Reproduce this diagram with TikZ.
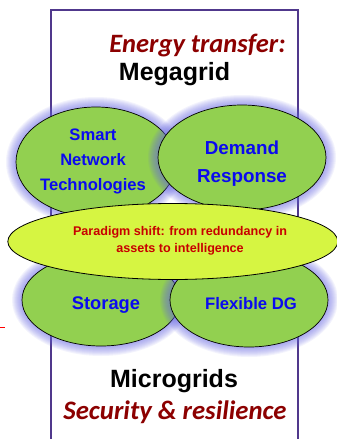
\documentclass[tikz,border=0pt]{standalone}
\usepackage{fontspec}
\setmainfont{Liberation Sans}
\newfontfamily\calib{Carlito}
\usetikzlibrary{shapes.geometric}
\definecolor{framec}{RGB}{80,56,140}
\definecolor{greenc}{RGB}{146,208,80}
\definecolor{yellowc}{RGB}{214,245,66}
\definecolor{glowc}{RGB}{105,105,225}
\definecolor{bluet}{RGB}{10,10,240}
\definecolor{redt}{RGB}{200,0,0}
\definecolor{darkred}{RGB}{140,0,0}
\newcommand\glowat[4]{\foreach \k in {1,...,10}{\fill[glowc,opacity=0.08] (#1,#2) ellipse [x radius=#3+\k, y radius=#4+\k];}}
\tikzset{
  blob/.style={ellipse, draw=black, line width=0.7pt, fill=greenc, inner sep=0pt},
  txt/.style={inner sep=0pt, align=center},
  btext/.style={txt, text=bluet},
}
\begin{document}
\begin{tikzpicture}[x=1pt,y=-1pt]
\useasboundingbox (0,0) rectangle (337,439);
\clip (0,0) rectangle (337,439);
% frame
\draw[framec, line width=2pt] (51,450) -- (51,9.5) -- (298,9.5) -- (298,450);
% small red mark
\coordinate (m1) at (0,327);
\coordinate (m2) at (5,327);
\draw[red, line width=0.8pt] (m1) -- (m2);
% top ellipses
\glowat{96}{162}{80}{55}
\node[blob, minimum width=160pt, minimum height=110pt] (snt) at (96,162) {};
\glowat{242}{157.5}{84}{52.5}
\node[blob, minimum width=168pt, minimum height=105pt] (dr) at (242,157.5) {};
% bottom ellipses
\glowat{101}{300}{79}{46}
\node[blob, minimum width=158pt, minimum height=92pt] (sto) at (101,300) {};
\glowat{249}{300}{79}{47}
\node[blob, minimum width=158pt, minimum height=94pt] (fdg) at (249,300) {};
% paradigm
\node[ellipse, draw=black, line width=0.8pt, fill=yellowc, inner sep=0pt, minimum width=330pt, minimum height=76pt] (par) at (172.8,241.5) {};
% texts
\node[txt, text=darkred, font=\calib\bfseries\itshape\fontsize{26.5}{30}\selectfont] (et) at (197.5,46) {Energy transfer:};
\node[txt, font=\bfseries\fontsize{25}{28}\selectfont] (mg) at (174.5,74.5) {Megagrid};
\node[btext, font=\bfseries\fontsize{16.6}{25}\selectfont] (snttxt) at (93,161) {Smart\\Network\\Technologies};
\node[btext, font=\bfseries\fontsize{18.8}{28}\selectfont] (drtxt) at (242,164) {Demand\\Response};
\node[txt, text=redt, font=\bfseries\fontsize{12.6}{17}\selectfont] (partxt) at (180,241) {Paradigm shift: from redundancy in\\assets to intelligence};
\node[btext, font=\bfseries\fontsize{18.3}{22}\selectfont] (stotxt) at (106,305) {Storage};
\node[btext, font=\bfseries\fontsize{16.7}{22}\selectfont] (fdgtxt) at (251,303.5) {Flexible DG};
\node[txt, font=\bfseries\fontsize{25}{28}\selectfont] (mic) at (174,381.5) {Microgrids};
\node[txt, text=darkred, font=\calib\bfseries\itshape\fontsize{26.7}{30}\selectfont] (sec) at (175,412) {Security \& resilience};
\end{tikzpicture}
\end{document}
